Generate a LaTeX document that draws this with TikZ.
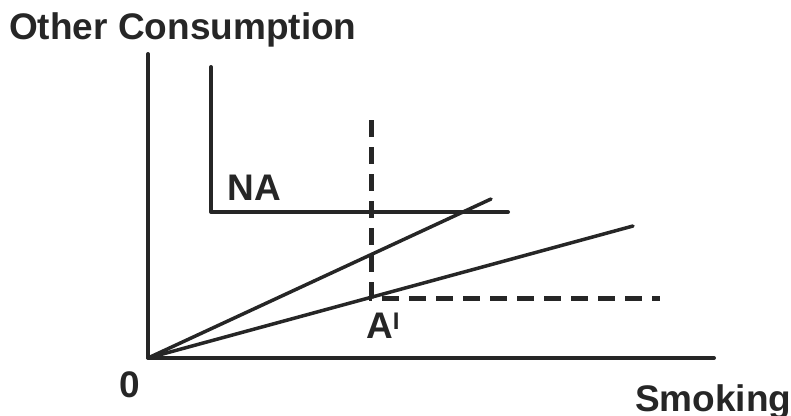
\documentclass[tikz,border=0pt]{standalone}
\usepackage{fontspec}
\setmainfont{Liberation Sans}
\definecolor{ink}{HTML}{262626}
\tikzset{
  axisline/.style={
    draw=ink,
    line width=4pt,
    line cap=round,
    line join=round
  },
  budget/.style={
    draw=ink,
    line width=3.5pt,
    line cap=round
  },
  guideline/.style={
    draw=ink,
    line width=5pt,
    dash pattern=on 17pt off 10pt
  },
  lbl/.style={
    text=ink,
    inner sep=0pt,
    anchor=base west,
    font=\fontsize{37}{41}\selectfont\bfseries
  }
}
\begin{document}
\begin{tikzpicture}[x=1pt,y=-1pt]
  \useasboundingbox (0,0) rectangle (791,415);
  % axes
  \coordinate (origin) at (148,358);
  \coordinate (ytop) at (148,54);
  \coordinate (xend) at (714,358);
  \draw[axisline] (ytop) -- (origin) -- (xend);
  \node[lbl] (ylabel) at (9,39) {Other Consumption};
  \node[lbl] (xlabel) at (635,411) {Smoking};
  \node[lbl] (zero) at (119,397) {0};

  % non-smoker's indifference curve
  \coordinate (natop) at (211,67);
  \coordinate (nacorner) at (211,212);
  \coordinate (naend) at (508,212);
  \draw[axisline] (natop) -- (nacorner) -- (naend);
  \node[lbl] (na) at (227.5,200) {NA};

  % rays from the origin
  \coordinate (steep) at (491,199);
  \coordinate (shallow) at (633,226);
  \draw[budget] (origin) -- (steep);
  \draw[budget] (origin) -- (shallow);

  % dashed guides through A'
  \coordinate (guidetop) at (371,120);
  \coordinate (apoint) at (371,298);
  \coordinate (guideend) at (660,298);
  \draw[guideline] (guidetop) -- (apoint) -- (guideend);
  \node[lbl] (alabel) at (366,338) {A\raisebox{9pt}{\fontsize{24}{24}\selectfont I}};
\end{tikzpicture}
\end{document}
